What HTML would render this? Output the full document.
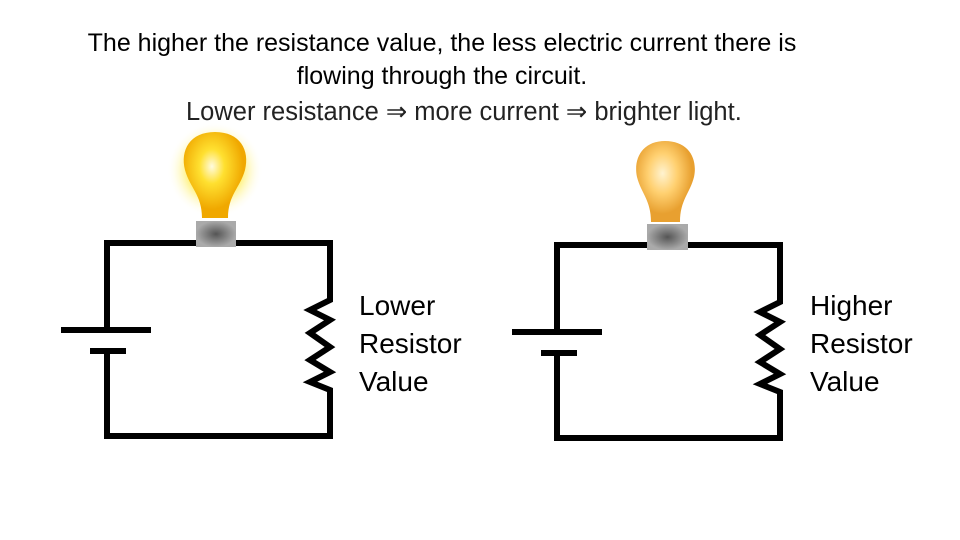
<!DOCTYPE html>
<html><head><style>
body{margin:0;width:960px;height:540px;background:#fff;overflow:hidden;position:relative;font-family:"Liberation Sans",sans-serif;}
.t{position:absolute;white-space:nowrap;color:#000;}
</style></head><body>
<div class="t" style="left:0;width:884px;text-align:center;top:29px;font-size:25px;">The higher the resistance value, the less electric current there is</div>
<div class="t" style="left:0;width:884px;text-align:center;top:62px;font-size:25px;">flowing through the circuit.</div>
<div class="t" style="left:186px;top:97px;font-size:25.5px;color:#222;">Lower resistance ⇒ more current ⇒ brighter light.</div>
<svg width="960" height="540" style="position:absolute;left:0;top:0">
<defs>
<radialGradient id="glow"><stop offset="0.5" stop-color="#ffee55"/><stop offset="1" stop-color="#fff" stop-opacity="0"/></radialGradient>
<radialGradient id="b1" cx="0.45" cy="0.4"><stop offset="0" stop-color="#fffbe0"/><stop offset="0.4" stop-color="#ffe030"/><stop offset="1" stop-color="#f0a800"/></radialGradient>
<radialGradient id="b2" cx="0.45" cy="0.4"><stop offset="0" stop-color="#fff3d0"/><stop offset="0.5" stop-color="#ffd070"/><stop offset="1" stop-color="#e8a030"/></radialGradient>
<radialGradient id="base"><stop offset="0" stop-color="#555"/><stop offset="1" stop-color="#aaa"/></radialGradient>
</defs>
<g fill="none" stroke="#000" stroke-width="6">
<polyline points="107,330 107,243 330,243 330,300 310,310 330,320 310,333 330,347 310,360 330,372 310,382 330,390 330,436 107,436 107,352"/>
<line x1="61" y1="330" x2="151" y2="330"/><line x1="90" y1="351" x2="126" y2="351"/>
<polyline points="557,332 557,245 780,245 780,302 760,312 780,322 760,335 780,349 760,362 780,374 760,384 780,392 780,438 557,438 557,354"/>
<line x1="512" y1="332" x2="602" y2="332"/><line x1="541" y1="353" x2="577" y2="353"/>
</g>
<circle cx="215" cy="170" r="48" fill="url(#glow)"/>
<path d="M215,132 C240,132 250,150 245,170 C240,188 228,195 228,218 L202,218 C202,195 190,188 185,170 C180,150 190,132 215,132Z" fill="url(#b1)"/>
<rect x="196" y="221" width="40" height="26" fill="url(#base)"/>
<path d="M665,141 C688,141 698,158 694,177 C690,193 680,200 680,222 L651,222 C651,200 641,193 637,177 C633,158 643,141 665,141Z" fill="url(#b2)"/>
<rect x="647" y="224" width="41" height="26" fill="url(#base)"/>
</svg>
<div class="t" style="left:359px;top:287px;font-size:28px;line-height:38px;">Lower<br>Resistor<br>Value</div>
<div class="t" style="left:810px;top:287px;font-size:28px;line-height:38px;">Higher<br>Resistor<br>Value</div>
</body></html>
